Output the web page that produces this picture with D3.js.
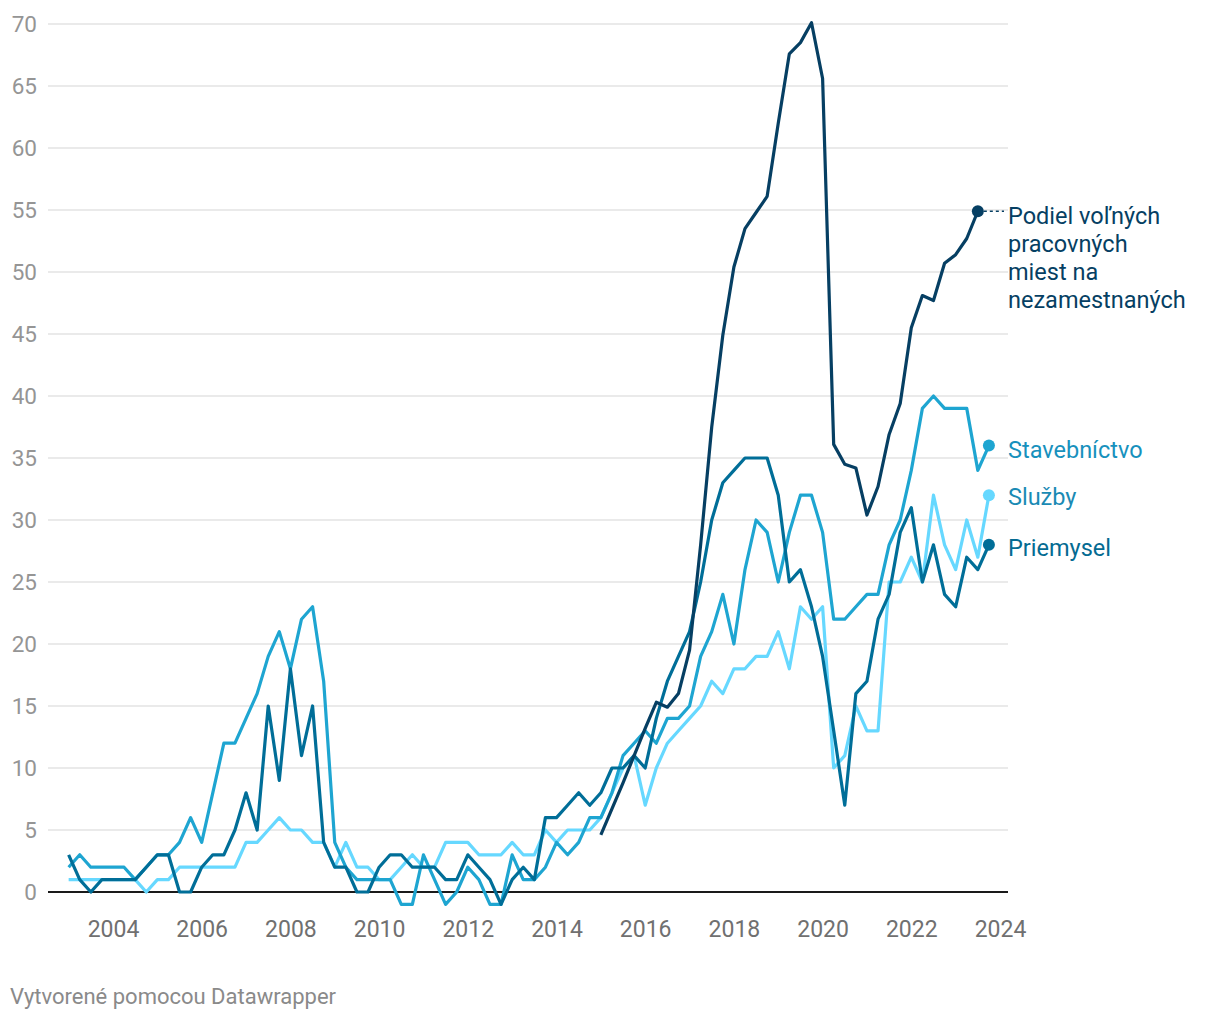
<!DOCTYPE html>
<html>
<head>
<meta charset="utf-8">
<script src="https://cdn.jsdelivr.net/npm/d3@7"></script>
<style>
  html, body { margin: 0; padding: 0; background: #fff; }
  svg { display: block; font-family: Roboto, "Noto Sans", sans-serif; }
</style>
</head>
<body>
<svg id="chart" width="1220" height="1020"></svg>
<script>
// ---- data ----
const quarters = [
  "2003-Q1","2003-Q2","2003-Q3","2003-Q4","2004-Q1","2004-Q2","2004-Q3","2004-Q4",
  "2005-Q1","2005-Q2","2005-Q3","2005-Q4","2006-Q1","2006-Q2","2006-Q3","2006-Q4",
  "2007-Q1","2007-Q2","2007-Q3","2007-Q4","2008-Q1","2008-Q2","2008-Q3","2008-Q4",
  "2009-Q1","2009-Q2","2009-Q3","2009-Q4","2010-Q1","2010-Q2","2010-Q3","2010-Q4",
  "2011-Q1","2011-Q2","2011-Q3","2011-Q4","2012-Q1","2012-Q2","2012-Q3","2012-Q4",
  "2013-Q1","2013-Q2","2013-Q3","2013-Q4","2014-Q1","2014-Q2","2014-Q3","2014-Q4",
  "2015-Q1","2015-Q2","2015-Q3","2015-Q4","2016-Q1","2016-Q2","2016-Q3","2016-Q4",
  "2017-Q1","2017-Q2","2017-Q3","2017-Q4","2018-Q1","2018-Q2","2018-Q3","2018-Q4",
  "2019-Q1","2019-Q2","2019-Q3","2019-Q4","2020-Q1","2020-Q2","2020-Q3","2020-Q4",
  "2021-Q1","2021-Q2","2021-Q3","2021-Q4","2022-Q1","2022-Q2","2022-Q3","2022-Q4",
  "2023-Q1","2023-Q2","2023-Q3","2023-Q4"
];

const priemysel = [
  3,1,0,1,1,1,1,2, 3,3,0,0,2,3,3,5, 8,5,15,9,18,11,15,4,
  2,2,0,0,2,3,3,2, 2,2,1,1,3,2,1,-1, 1,2,1,6,6,7,8,7,
  8,10,10,11,10,14,17,19, 21,25,30,33,34,35,35,35, 32,25,26,23,19,13,7,16,
  17,22,24,29,31,25,28,24, 23,27,26,28
];

const stavebnictvo = [
  2,3,2,2,2,2,1,2, 3,3,4,6,4,8,12,12, 14,16,19,21,18,22,23,17,
  4,2,1,1,1,1,-1,-1, 3,1,-1,0,2,1,-1,-1, 3,1,1,2,4,3,4,6,
  6,8,11,12,13,12,14,14, 15,19,21,24,20,26,30,29, 25,29,32,32,29,22,22,23,
  24,24,28,30,34,39,40,39, 39,39,34,36
];

const sluzby = [
  1,1,1,1,1,1,1,0, 1,1,2,2,2,2,2,2, 4,4,5,6,5,5,4,4,
  2,4,2,2,1,1,2,3, 2,2,4,4,4,3,3,3, 4,3,3,5,4,5,5,5,
  6,8,10,11,7,10,12,13, 14,15,17,16,18,18,19,19, 21,18,23,22,23,10,11,15,
  13,13,25,25,27,25,32,28, 26,30,27,32
];

const podiel = [
  null,null,null,null,null,null,null,null, null,null,null,null,null,null,null,null,
  null,null,null,null,null,null,null,null, null,null,null,null,null,null,null,null,
  null,null,null,null,null,null,null,null, null,null,null,null,null,null,null,null,
  4.6,6.7,8.8,11.0,13.2,15.3,14.9,16.0, 19.5,28.0,37.5,44.9,50.4,53.5,54.8,56.1,
  62.0,67.6,68.5,70.1,65.6,36.1,34.5,34.2, 30.4,32.7,36.9,39.4,45.5,48.1,47.7,50.7,
  51.4,52.7,54.9,null
];

const yTicks = [0,5,10,15,20,25,30,35,40,45,50,55,60,65,70];
const xTicks = [2004,2006,2008,2010,2012,2014,2016,2018,2020,2022,2024];

const seriesNames = ["Stavebníctvo","Služby","Priemysel","Podiel voľných pracovných miest na nezamestnaných"];
const podielLabelLines = ["Podiel voľných","pracovných","miest na","nezamestnaných"];
const footerText = "Vytvorené pomocou Datawrapper";

// ---- chart ----
const svg = d3.select("#chart");
const t = quarters.map(q => { const [y, qq] = q.split("-Q"); return +y + (+qq - 1) / 4; });

const x = d3.scaleLinear().domain([2004, 2024]).range([113, 1000]);
const y = d3.scaleLinear().domain([0, 70]).range([892, 24]);
const gridX0 = 48, gridX1 = 1008;

// gridlines
const grid = svg.append("g");
grid.selectAll("line").data(yTicks.filter(d => d !== 0)).join("line")
  .attr("x1", gridX0).attr("x2", gridX1)
  .attr("y1", d => y(d)).attr("y2", d => y(d))
  .attr("stroke", "#e3e3e3").attr("stroke-width", 1.5);

// y axis labels
const yAxis = d3.axisLeft(y).tickValues(yTicks).tickSize(0).tickPadding(0);
const gy = svg.append("g").attr("transform", "translate(37,0)").call(yAxis);
gy.select(".domain").remove();
gy.selectAll("text").attr("font-size", 22.5).attr("fill", "#959595")
  .attr("font-family", "Roboto, sans-serif").attr("dy", "0.35em");

// x axis labels
const xAxis = d3.axisBottom(x).tickValues(xTicks).tickFormat(d3.format("d")).tickSize(0).tickPadding(0);
const gx = svg.append("g").attr("transform", "translate(0,921)").call(xAxis);
gx.select(".domain").remove();
gx.selectAll("text").attr("font-size", 23).attr("fill", "#707070")
  .attr("font-family", "Roboto, sans-serif").attr("dy", "0.71em");

// zero line
svg.append("line").attr("x1", gridX0).attr("x2", gridX1)
  .attr("y1", y(0)).attr("y2", y(0)).attr("stroke", "#1a1a1a").attr("stroke-width", 2);

const colors = {
  stav: "#1ea5d1",
  sluz: "#66d8ff",
  prie: "#006e98",
  pod: "#063f63"
};
const labelColors = {
  stav: "#1791bd",
  sluz: "#1a8ab4",
  prie: "#046b92",
  pod: "#063f63"
};

const line = d3.line()
  .defined(d => d[1] !== null)
  .x(d => x(d[0])).y(d => y(d[1]));

function drawSeries(vals, color) {
  const pts = vals.map((v, i) => [t[i], v]);
  svg.append("path").datum(pts)
    .attr("fill", "none").attr("stroke", color).attr("stroke-width", 3.2)
    .attr("stroke-linejoin", "round").attr("stroke-linecap", "butt")
    .attr("d", line);
  const last = pts.filter(d => d[1] !== null).pop();
  svg.append("circle").attr("cx", x(last[0])).attr("cy", y(last[1])).attr("r", 6).attr("fill", color);
  return last;
}

drawSeries(sluzby, colors.sluz);
drawSeries(stavebnictvo, colors.stav);
drawSeries(priemysel, colors.prie);
const lastPod = drawSeries(podiel, colors.pod);

// dashed connector for Podiel label
svg.append("line")
  .attr("x1", x(lastPod[0]) + 6).attr("x2", 1004)
  .attr("y1", y(lastPod[1])).attr("y2", y(lastPod[1]))
  .attr("stroke", colors.pod).attr("stroke-width", 1.5).attr("stroke-dasharray", "3,3");

// labels
const lbl = svg.append("g").attr("font-size", 23.5).attr("font-family", "Roboto, sans-serif");
const podText = lbl.append("text").attr("x", 1008).attr("y", y(lastPod[1]) + 5).attr("fill", labelColors.pod);
podielLabelLines.forEach((s, i) => {
  podText.append("tspan").attr("x", 1008).attr("dy", i === 0 ? "0.35em" : 28).text(s);
});

const lastIdx = quarters.length - 1;
const sideLabels = [
  { name: seriesNames[0], v: stavebnictvo[lastIdx], c: labelColors.stav, off: 4 },
  { name: seriesNames[1], v: sluzby[lastIdx], c: labelColors.sluz, off: 2 },
  { name: seriesNames[2], v: priemysel[lastIdx], c: labelColors.prie, off: 3 }
];
lbl.selectAll("text.side").data(sideLabels).join("text").attr("class", "side")
  .attr("x", 1008).attr("y", d => y(d.v) + d.off).attr("dy", "0.35em")
  .attr("fill", d => d.c).text(d => d.name);

// footer
svg.append("text").attr("x", 10).attr("y", 1004).attr("font-size", 22)
  .attr("fill", "#8a8a8a").attr("font-family", "Roboto, sans-serif").text(footerText);
</script>
</body>
</html>
